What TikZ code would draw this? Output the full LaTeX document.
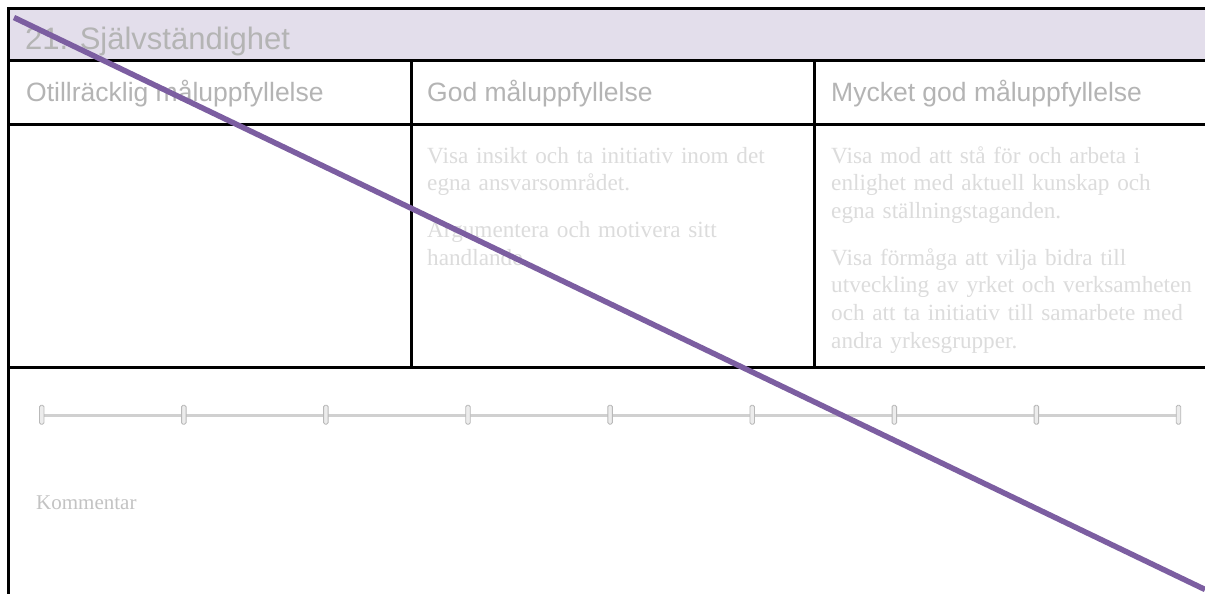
\documentclass[tikz,border=0pt]{standalone}
\usepackage{fontspec}
\setmainfont{Liberation Serif}
\newfontfamily\rubrikfont{Liberation Sans}
\usetikzlibrary{positioning}
\definecolor{rubrikgra}{RGB}{180,180,180}
\definecolor{brodgra}{RGB}{220,220,220}
\definecolor{lila}{RGB}{227,222,235}
\definecolor{streckfarg}{RGB}{124,94,161}
\definecolor{skalfarg}{RGB}{208,208,208}

\begin{document}
\begin{tikzpicture}[x=1pt, y=-1pt,
    ram/.style={line width=3pt, black},
    rubrik/.style={anchor=base west, inner sep=0pt, text=rubrikgra,
                   font=\rubrikfont\fontsize{26.5}{30}\selectfont},
    brodtext/.style={anchor=base west, inner sep=0pt, text width=400pt, align=left,
                     text=brodgra, font=\fontsize{23.2}{27.7}\selectfont},
    skalsteg/.style={draw=gray!55, fill=gray!15, rounded corners=1.5pt,
                     minimum width=4.5pt, minimum height=19pt, inner sep=0pt, line width=0.9pt}
  ]
    \useasboundingbox[fill=white] (0,0) rectangle (1205,594);

    % Rubrikfält
    \fill[lila] (8,8) rectangle (1205,60.5);
    \node[rubrik, font=\rubrikfont\fontsize{31}{34}\selectfont] (titel) at (25,50) {21. Självständighet};

    % Tabell
    \draw[ram] (1205,8.3) -- (8.3,8.3) -- (8.3,594);
    \draw[ram] (8.3,60.7) -- (1205,60.7);
    \draw[ram] (8.3,124.3) -- (1205,124.3);
    \draw[ram] (8.3,367) -- (1205,367);
    \draw[ram] (411,60.7) -- (411,367);
    \draw[ram] (814,60.7) -- (814,367);

    % Nivåer
    \node[rubrik] (niva1) at (26,102) {Otillräcklig måluppfyllelse};
    \node[rubrik] (niva2) at (427,102) {God måluppfyllelse};
    \node[rubrik] (niva3) at (831,102) {Mycket god måluppfyllelse};

    \node[brodtext] (krav2) at (427,163) {Visa insikt och ta initiativ inom det\\
      egna ansvarsområdet.\\[19pt]
      Argumentera och motivera sitt\\
      handlande.};
    \node[brodtext] (krav3) at (831,163) {Visa mod att stå för och arbeta i\\
      enlighet med aktuell kunskap och\\
      egna ställningstaganden.\\[19pt]
      Visa förmåga att vilja bidra till\\
      utveckling av yrket och verksamheten\\
      och att ta initiativ till samarbete med\\
      andra yrkesgrupper.};

    % Skala
    \coordinate (skala0) at (41.7,415.3);
    \coordinate (skala8) at (1178.7,415.3);
    \draw[skalfarg, line width=3.5pt] (skala0) -- (skala8);
    \foreach \i in {0,...,8}
      \node[skalsteg] (steg\i) at (41.7+142.1*\i,414.7) {};

    \node[anchor=base west, inner sep=0pt, text=rubrikgra!80,
          font=\fontsize{21}{24}\selectfont] (kommentar) at (36,509) {Kommentar};

    % Överstrykning
    \coordinate (start) at (14,17.5);
    \coordinate (slut) at (1205,589.5);
    \draw[streckfarg, line width=5.5pt] (start) -- (slut);
  \end{tikzpicture}
\end{document}
